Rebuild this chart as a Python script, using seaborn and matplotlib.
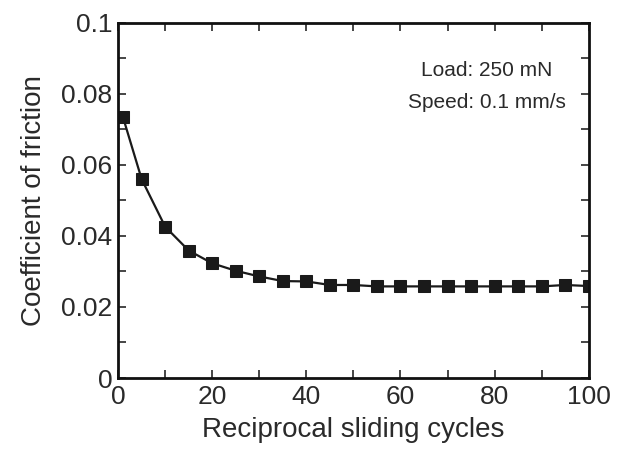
import numpy as np
import pandas as pd
import matplotlib
matplotlib.use("Agg")
import matplotlib.pyplot as plt
import seaborn as sns
from matplotlib.ticker import MultipleLocator

# data
cycles = [1, 5, 10, 15, 20, 25, 30, 35, 40, 45, 50, 55, 60, 65, 70, 75, 80, 85, 90, 95, 100]
cof = [0.0736, 0.0560, 0.0426, 0.0359, 0.0323, 0.0302, 0.0286, 0.0273, 0.0272, 0.0262,
       0.0262, 0.0258, 0.0258, 0.0258, 0.0258, 0.0258, 0.0258, 0.0258, 0.0258, 0.0262, 0.0259]

df = pd.DataFrame({"cycles": cycles, "cof": cof})

sns.set_style("ticks")
plt.rcParams['font.family'] = ['Liberation Sans', 'DejaVu Sans']

fig = plt.figure(figsize=(6.42, 4.5), dpi=100)
ax = fig.add_axes([0.184, 0.16, 0.733, 0.789])

sns.lineplot(data=df, x="cycles", y="cof", ax=ax, color="#1a1a1a", linewidth=1.6,
             marker="s", markersize=9, markeredgecolor="#1a1a1a", markerfacecolor="#1a1a1a")

ax.set_xlim(0, 100)
ax.set_ylim(0, 0.1)
ax.xaxis.set_major_locator(MultipleLocator(20))
ax.xaxis.set_minor_locator(MultipleLocator(10))
ax.yaxis.set_minor_locator(MultipleLocator(0.01))
ax.set_yticks([0, 0.02, 0.04, 0.06, 0.08, 0.1])
ax.set_yticklabels(["0", "0.02", "0.04", "0.06", "0.08", "0.1"])

ax.tick_params(which="both", direction="in", top=True, right=True, width=1.2,
               labelsize=19, labelcolor="#2a2a2a", length=6)
ax.tick_params(axis="x", pad=5)
ax.tick_params(axis="y", pad=4)
for s in ax.spines.values():
    s.set_linewidth(2)
    s.set_color("#111111")

ax.set_xlabel("Reciprocal sliding cycles", fontsize=20, color="#2a2a2a", labelpad=6)
ax.set_ylabel("Coefficient of friction", fontsize=20, color="#2a2a2a", labelpad=10)

ax.text(78.3, 0.0865, "Load: 250 mN", ha="center", va="center", fontsize=15, color="#2a2a2a")
ax.text(78.3, 0.0775, "Speed: 0.1 mm/s", ha="center", va="center", fontsize=15, color="#2a2a2a")

fig.savefig("out.png", dpi=100, facecolor="white")
